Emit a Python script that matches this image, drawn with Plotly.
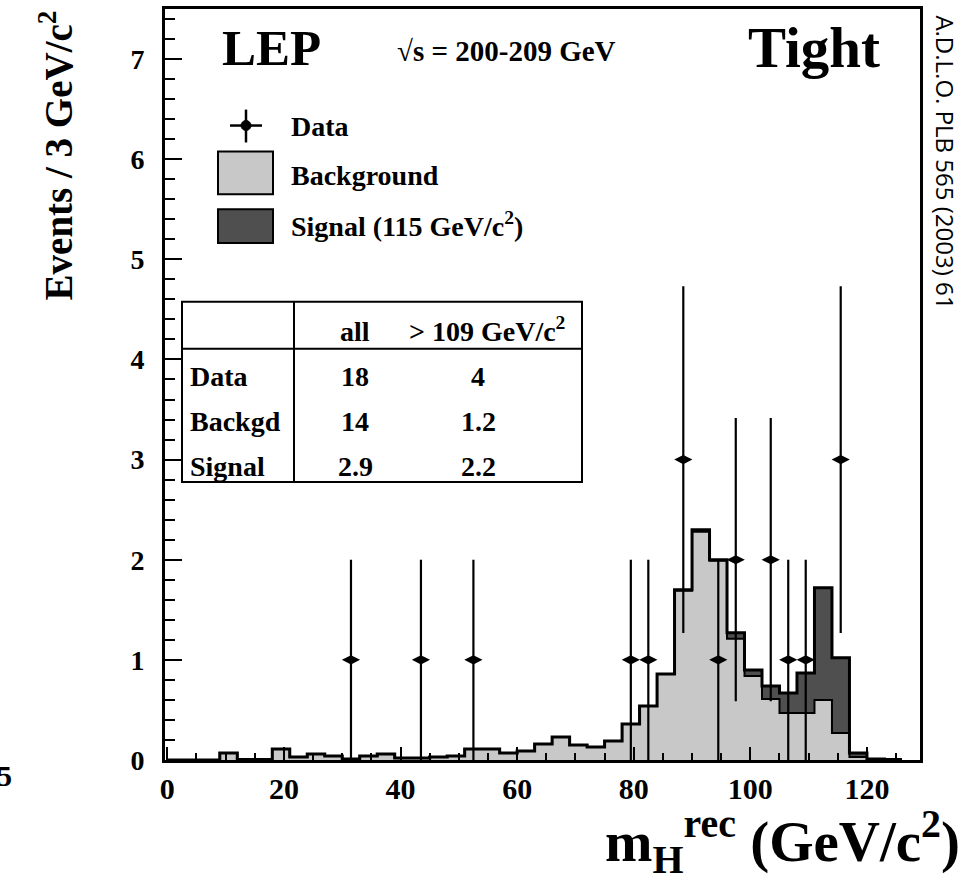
import plotly.graph_objects as go
import numpy as np

# ---------------- data ----------------
bin_width = 3.0
bin_start = 0.0
background = [0, 0, 0, 0.07, 0.005, 0.005, 0.11, 0.03, 0.06, 0.04, 0.01, 0.04, 0.06,
              0.02, 0.02, 0.03, 0.04, 0.11, 0.11, 0.07, 0.09, 0.16, 0.23, 0.15, 0.13,
              0.19, 0.36, 0.54, 0.86, 1.69, 2.28, 1.99, 1.21, 0.84, 0.61, 0.47, 0.47,
              0.60, 0.27, 0.03, 0.005, 0.005]
signal = [0] * 29 + [0.01, 0.02, 0.01, 0.06, 0.06, 0.13, 0.20, 0.40, 1.12, 0.75, 0.04, 0.005, 0]
data_x = [31.5, 43.5, 52.5, 79.5, 82.5, 88.5, 94.5, 97.5, 103.5, 106.5, 109.5, 115.5]
data_n = [1, 1, 1, 1, 1, 3, 1, 2, 2, 1, 1, 3]

table_cols = ["all", "> 109 GeV/c<sup>2</sup>"]
table_rows = ["Data", "Backgd", "Signal"]
table_all = ["18", "14", "2.9"]
table_high = ["4", "1.2", "2.2"]

x_ticks = [0, 20, 40, 60, 80, 100, 120]
y_ticks = [0, 1, 2, 3, 4, 5, 6, 7]

# ---------------- geometry helpers (pixel -> paper) ----------------
W, H = 965, 896
L, R, T, B = 165, 45, 6, 136
PW, PH = W - L - R, H - T - B


def px(x):
    return (x - L) / PW


def py(y):
    return (H - B - y) / PH


SERIF = "Liberation Serif"
LIGHT = "#c8c8c8"
DARK = "#4f4f4f"

# ---------------- step histograms ----------------
nb = len(background)
edges = bin_start + bin_width * np.arange(nb + 1)
bkg = np.array(background, dtype=float)
tot = bkg + np.array(signal, dtype=float)
xs = edges
ys_b = np.append(bkg, bkg[-1])
ys_t = np.append(tot, tot[-1])

fig = go.Figure()
fig.add_trace(go.Scatter(x=xs, y=ys_b, mode="lines", line=dict(shape="hv", color="black", width=2),
                         fill="tozeroy", fillcolor=LIGHT, hoverinfo="skip", showlegend=False))
fig.add_trace(go.Scatter(x=xs, y=ys_t, mode="lines", line=dict(shape="hv", color="black", width=3),
                         fill="tonexty", fillcolor=DARK, hoverinfo="skip", showlegend=False))

err = np.sqrt(np.array(data_n, dtype=float))
fig.add_trace(go.Scatter(x=data_x, y=data_n, mode="markers",
                         marker=dict(symbol="diamond-wide", size=13, color="black"),
                         error_y=dict(type="data", array=err, visible=True, color="black",
                                      thickness=2.2, width=0),
                         showlegend=False))

shapes = []
annotations = []


def text(x, y, s, size, xanchor="left", yanchor="middle", family=SERIF, bold=True, angle=0):
    annotations.append(dict(x=px(x), y=py(y), xref="paper", yref="paper", text=s,
                            showarrow=False, xanchor=xanchor, yanchor=yanchor, textangle=angle,
                            font=dict(family=family, size=size, color="black",
                                      weight="bold" if bold else "normal")))


def line(x0, y0, x1, y1, w=2):
    shapes.append(dict(type="line", xref="paper", yref="paper", x0=px(x0), y0=py(y0),
                       x1=px(x1), y1=py(y1), line=dict(color="black", width=w)))


def rect(x0, y0, x1, y1, fill="rgba(0,0,0,0)", w=2):
    shapes.append(dict(type="rect", xref="paper", yref="paper", x0=px(x0), y0=py(y0),
                       x1=px(x1), y1=py(y1), fillcolor=fill, line=dict(color="black", width=w)))


# header texts
text(220, 45, "LEP", 51)
text(395, 48, "√s = 200-209 GeV", 29)
text(882, 45, "Tight", 57, xanchor="right")

# legend
line(230, 123, 262, 123, 2.5)
line(246, 107, 246, 140, 2.5)
shapes.append(dict(type="circle", xref="paper", yref="paper", x0=px(241), y0=py(128),
                   x1=px(251), y1=py(118), fillcolor="black", line=dict(color="black", width=1)))
rect(218, 149, 273, 192, LIGHT)
rect(218, 207, 273, 241, DARK)
text(289, 124, "Data", 28)
text(289, 173, "Background", 28)
text(289, 222, "Signal (115 GeV/c<sup>2</sup>)", 28)

# table
rect(182, 300, 582, 481, "white", 2)
line(182, 347, 582, 347, 2)
line(294, 300, 294, 481, 2)
text(355, 330, table_cols[0], 28, xanchor="center")
text(487, 328, table_cols[1], 28, xanchor="center")
row_y = [375, 420, 465]
for i, r in enumerate(table_rows):
    text(188, row_y[i], r, 28)
    text(355, row_y[i], table_all[i], 28, xanchor="center")
    text(478, row_y[i], table_high[i], 28, xanchor="center")

# axis titles
text(56, 153, "Events / 3 GeV/c<sup>2</sup>", 39, xanchor="center", angle=-90)
text(962, 842, "m<sub>H</sub><sup>rec</sup> (GeV/c<sup>2</sup>)", 57, xanchor="right")

# side reference text
text(946, 160, "A.D.L.O. PLB 565 (2003) 61", 24, xanchor="center", family="Open Sans",
     bold=False, angle=90)
# cropped label remnant at the left edge
text(4, 776, "5", 30, xanchor="center")

fig.update_layout(
    width=W, height=H,
    margin=dict(l=L, r=R, t=T, b=B),
    paper_bgcolor="white", plot_bgcolor="white",
    shapes=shapes, annotations=annotations,
    showlegend=False,
)
fig.update_xaxes(range=[-0.4, 129.1], tickvals=x_ticks, ticktext=[str(v) for v in x_ticks],
                 ticks="inside", ticklen=13, tickwidth=2, tickcolor="black",
                 minor=dict(dtick=5, tick0=0, ticks="inside", ticklen=7, tickwidth=2, tickcolor="black"),
                 showline=True, mirror=True, linewidth=3, linecolor="black",
                 showgrid=False, zeroline=False,
                 tickfont=dict(family=SERIF, size=30, color="black", weight="bold"))
fig.update_yaxes(range=[0, 7.5], tickvals=y_ticks, ticktext=[str(v) for v in y_ticks],
                 ticks="inside", ticklen=17, tickwidth=2, tickcolor="black",
                 minor=dict(dtick=0.2, tick0=0, ticks="inside", ticklen=10, tickwidth=2, tickcolor="black"),
                 showline=True, mirror=True, linewidth=3, linecolor="black",
                 showgrid=False, zeroline=False, ticklabelstandoff=12,
                 tickfont=dict(family=SERIF, size=28, color="black", weight="bold"))

fig.write_html("out.html")
